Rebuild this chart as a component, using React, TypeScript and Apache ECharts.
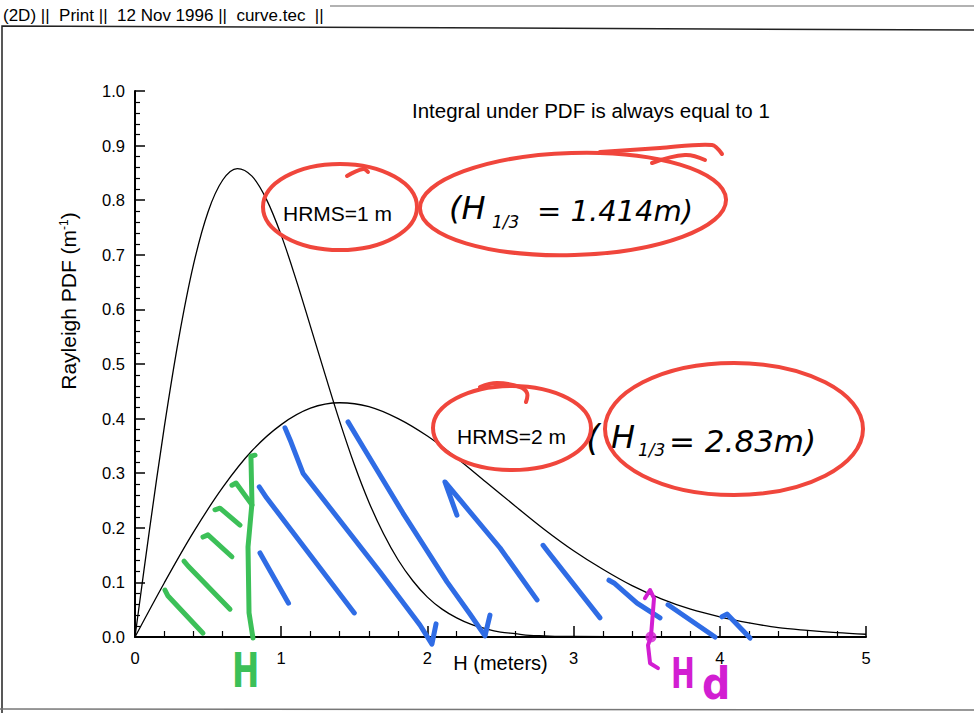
import React, { useEffect, useRef } from "react";
import * as echarts from "echarts";

// Rayleigh PDF curves
const hrms1X = [0, 0.1, 0.2, 0.3, 0.4, 0.5, 0.6, 0.7, 0.8, 0.9, 1.0, 1.1, 1.2, 1.3, 1.4, 1.5, 1.6, 1.7, 1.8, 1.9, 2.0, 2.1, 2.2, 2.3, 2.4, 2.5, 2.6, 2.7, 2.8, 2.9, 3.0, 3.5, 4.0, 4.5, 5.0];
const hrms1Y = [0, 0.198, 0.384, 0.548, 0.682, 0.779, 0.837, 0.858, 0.844, 0.801, 0.736, 0.656, 0.569, 0.481, 0.395, 0.316, 0.247, 0.189, 0.141, 0.103, 0.073, 0.051, 0.035, 0.023, 0.015, 0.009, 0.006, 0.003, 0.002, 0.001, 0.001, 0, 0, 0, 0];
const hrms2X = [0, 0.2, 0.4, 0.6, 0.8, 1.0, 1.2, 1.4, 1.6, 1.8, 2.0, 2.2, 2.4, 2.6, 2.8, 3.0, 3.2, 3.4, 3.6, 3.8, 4.0, 4.2, 4.4, 4.6, 4.8, 5.0];
const hrms2Y = [0, 0.099, 0.192, 0.274, 0.341, 0.389, 0.419, 0.429, 0.422, 0.400, 0.368, 0.328, 0.284, 0.240, 0.197, 0.158, 0.124, 0.094, 0.070, 0.051, 0.037, 0.026, 0.017, 0.012, 0.008, 0.005];

// hand-drawn hatch strokes, in data units (H, PDF)
const blueStrokes = [
  [[0.85, 0.275], [0.9, 0.255], [1.5, 0.044]],
  [[0.855, 0.154], [1.05, 0.062]],
  [[1.026, 0.383], [1.067, 0.357], [1.149, 0.3], [1.676, 0.119], [1.949, 0.022], [2.031, -0.013], [2.059, 0.024]],
  [[1.457, 0.394], [1.56, 0.348], [1.833, 0.227], [2.134, 0.101], [2.291, 0.042], [2.394, 0.002], [2.428, 0.04]],
  [[2.202, 0.223], [2.12, 0.284], [2.223, 0.251], [2.497, 0.163], [2.75, 0.068]],
  [[2.791, 0.168], [2.825, 0.156], [3.181, 0.035]],
  [[3.242, 0.104], [3.276, 0.099], [3.434, 0.062], [3.591, 0.035]],
  [[3.646, 0.059], [3.967, 0.0]],
  [[4.015, 0.037], [4.049, 0.042], [4.207, -0.002]],
];
const greenStrokes = [
  [[0.205, 0.086], [0.226, 0.075], [0.465, 0.007]],
  [[0.335, 0.139], [0.363, 0.13], [0.65, 0.051]],
  [[0.465, 0.183], [0.499, 0.187], [0.663, 0.147]],
  [[0.547, 0.233], [0.581, 0.236], [0.718, 0.205]],
  [[0.663, 0.278], [0.691, 0.282], [0.8, 0.242]],
  [[0.821, 0.333], [0.793, 0.331], [0.8, 0.245], [0.773, 0.165], [0.78, 0.044], [0.807, -0.002]],
];
const magentaStroke = [[3.488, 0.071], [3.523, 0.086], [3.55, 0.071], [3.529, 0.0], [3.509, -0.015], [3.523, -0.048], [3.577, -0.057]];
const magentaDot = [[3.529, 0.0]];

const FONT = "'Liberation Sans', Arial, Helvetica, sans-serif";
const HAND = "'DejaVu Sans', sans-serif";
const RED = "#f0463c";
const BLUE = "#2f6ce5";
const GREEN = "#3cc058";
const MAGENTA = "#d21ed2";

function txt(x: number, y: number, text: string, extra: any = {}, elExtra: any = {}) {
  return {
    type: "text",
    x,
    y,
    ...elExtra,
    style: {
      text,
      fill: "#000",
      fontFamily: FONT,
      fontSize: 20,
      align: "left",
      verticalAlign: "middle",
      textAlign: "left",
      textVerticalAlign: "middle",
      ...extra,
    },
  };
}

export default function App() {
  const ref = useRef<HTMLDivElement>(null);
  useEffect(() => {
    if (!ref.current) return;
    const chart = echarts.init(ref.current, null, { renderer: "svg" });
    const zip = (xs: number[], ys: number[]) => xs.map((x, i) => [x, ys[i]]);
    const option: any = {
      animation: false,
      backgroundColor: "#fff",
      grid: { left: 135, right: 108, top: 91, bottom: 76, containLabel: false },
      xAxis: {
        type: "value",
        min: 0,
        max: 5,
        interval: 1,
        name: "H (meters)",
        nameLocation: "middle",
        nameGap: 16,
        nameMoveOverlap: false,
        nameTextStyle: { color: "#000", fontSize: 20, fontFamily: FONT },
        axisLine: { lineStyle: { color: "#000", width: 2 } },
        axisTick: { inside: true, length: 11, lineStyle: { color: "#000", width: 1.5 } },
        minorTick: { show: true, splitNumber: 5, length: 6, lineStyle: { color: "#000", width: 1.2 } },
        splitLine: { show: false },
        minorSplitLine: { show: false },
        axisLabel: { color: "#000", fontSize: 16.5, fontFamily: FONT, margin: 12 },
      },
      yAxis: {
        type: "value",
        min: 0,
        max: 1,
        interval: 0.1,
        axisLine: { show: true, lineStyle: { color: "#000", width: 2 } },
        axisTick: { show: true, inside: true, length: 10, lineStyle: { color: "#000", width: 1.5 } },
        minorTick: { show: true, splitNumber: 5, length: 5, lineStyle: { color: "#000", width: 1.2 } },
        splitLine: { show: false },
        minorSplitLine: { show: false },
        axisLabel: {
          color: "#000",
          fontSize: 16.5,
          fontFamily: FONT,
          margin: 10,
          formatter: (v: number) => v.toFixed(1),
        },
      },
      series: [
        {
          type: "line",
          name: "HRMS=1 m",
          data: zip(hrms1X, hrms1Y),
          smooth: 0.35,
          showSymbol: false,
          symbol: "none",
          lineStyle: { color: "#000", width: 1.3 },
          z: 2,
        },
        {
          type: "line",
          name: "HRMS=2 m",
          data: zip(hrms2X, hrms2Y),
          smooth: 0.35,
          showSymbol: false,
          symbol: "none",
          lineStyle: { color: "#000", width: 1.3 },
          z: 2,
        },
        {
          type: "lines",
          coordinateSystem: "cartesian2d",
          polyline: true,
          clip: false,
          silent: true,
          data: blueStrokes.map((c) => ({ coords: c })),
          lineStyle: { color: BLUE, width: 5, opacity: 1, cap: "round", join: "round" },
          z: 3,
        },
        {
          type: "lines",
          coordinateSystem: "cartesian2d",
          polyline: true,
          clip: false,
          silent: true,
          data: greenStrokes.map((c) => ({ coords: c })),
          lineStyle: { color: GREEN, width: 5, opacity: 1, cap: "round", join: "round" },
          z: 3,
        },
        {
          type: "lines",
          coordinateSystem: "cartesian2d",
          polyline: true,
          clip: false,
          silent: true,
          data: [{ coords: magentaStroke }],
          lineStyle: { color: MAGENTA, width: 4, opacity: 1, cap: "round", join: "round" },
          z: 3,
        },
        {
          type: "scatter",
          data: magentaDot,
          symbolSize: 11,
          clip: false,
          silent: true,
          itemStyle: { color: MAGENTA },
          z: 4,
        },
      ],
      graphic: [
        // page frame
        { type: "line", shape: { x1: 330, y1: 6, x2: 974, y2: 6 }, style: { stroke: "#666", lineWidth: 1.2 } },
        { type: "polyline", shape: { points: [[974, 30], [2, 26], [2, 713]] }, style: { stroke: "#222", lineWidth: 1.5, fill: "none" } },
        { type: "line", shape: { x1: 0, y1: 709, x2: 974, y2: 710 }, style: { stroke: "#777", lineWidth: 1.5 } },
        txt(3, 15, "(2D) ||  Print ||  12 Nov 1996 ||  curve.tec  ||", { fontSize: 17 }),
        // printed labels
        txt(412, 110, "Integral under PDF is always equal to 1", { fontSize: 20.5 }),
        txt(283, 213, "HRMS=1 m", { fontSize: 21 }),
        txt(457, 436, "HRMS=2 m", { fontSize: 21 }),
        txt(68, 301, "Rayleigh PDF (m{sup|-1})", {
          fontSize: 21,
          align: "center",
          textAlign: "center",
          rich: { sup: { fontSize: 12, fontFamily: FONT, fill: "#000", verticalAlign: "top", padding: [0, 0, 8, 0] } },
        }, { rotation: Math.PI / 2 }),
        // red hand-drawn ellipses
        { type: "ellipse", x: 340, y: 207, shape: { cx: 0, cy: 0, rx: 77, ry: 43 }, style: { fill: "none", stroke: RED, lineWidth: 4 }, z: 10 },
        { type: "polyline", shape: { points: [[347, 176], [363, 169], [368, 172]], smooth: 0.4 }, style: { fill: "none", stroke: RED, lineWidth: 4, lineCap: "round" }, z: 10 },
        { type: "ellipse", x: 573, y: 204, rotation: 0.03, shape: { cx: 0, cy: 0, rx: 153, ry: 51 }, style: { fill: "none", stroke: RED, lineWidth: 4 }, z: 10 },
        { type: "polyline", shape: { points: [[600, 152], [660, 148], [712, 145], [722, 154]], smooth: 0.3 }, style: { fill: "none", stroke: RED, lineWidth: 4, lineCap: "round" }, z: 10 },
        { type: "polyline", shape: { points: [[652, 163], [685, 155], [705, 160]], smooth: 0.4 }, style: { fill: "none", stroke: RED, lineWidth: 4, lineCap: "round" }, z: 10 },
        { type: "ellipse", x: 512, y: 428, shape: { cx: 0, cy: 0, rx: 79, ry: 42 }, style: { fill: "none", stroke: RED, lineWidth: 4 }, z: 10 },
        { type: "polyline", shape: { points: [[480, 387], [497, 383], [520, 387], [527, 393], [526, 402]], smooth: 0.4 }, style: { fill: "none", stroke: RED, lineWidth: 4, lineCap: "round" }, z: 10 },
        { type: "ellipse", x: 734, y: 429, shape: { cx: 0, cy: 0, rx: 129, ry: 66 }, style: { fill: "none", stroke: RED, lineWidth: 4 }, z: 10 },
        // handwritten H1/3 notes
        txt(449, 208, "(H", { fontSize: 32, fontFamily: HAND, fontStyle: "italic" }),
        txt(492, 222, "1/3", { fontSize: 17, fontFamily: HAND, fontStyle: "italic" }),
        txt(537, 211, "= 1.414m)", { fontSize: 29, fontFamily: HAND, fontStyle: "italic" }),
        txt(586, 437, "(", { fontSize: 36, fontFamily: HAND, fontStyle: "italic" }),
        txt(611, 437, "H", { fontSize: 32, fontFamily: HAND, fontStyle: "italic" }),
        txt(638, 450, "1/3", { fontSize: 17, fontFamily: HAND, fontStyle: "italic" }),
        txt(669, 441, "= 2.83m)", { fontSize: 31, fontFamily: HAND, fontStyle: "italic" }),
        // green and magenta handwritten letters
        txt(232, 671, "H", { fontSize: 48, fontFamily: HAND, fontWeight: "bold", fill: GREEN }, { scaleX: 0.68 }),
        txt(671, 673, "H", { fontSize: 42, fontFamily: HAND, fontWeight: "bold", fill: MAGENTA }, { scaleX: 0.68 }),
        txt(702, 684, "d", { fontSize: 44, fontFamily: HAND, fontWeight: "bold", fill: MAGENTA }, { scaleX: 0.9 }),
      ],
    };
    chart.setOption(option);
    return () => chart.dispose();
  }, []);
  return (
    <div
      ref={ref}
      style={{ position: "fixed", left: 0, top: 0, width: 974, height: 713, background: "#fff" }}
    />
  );
}
